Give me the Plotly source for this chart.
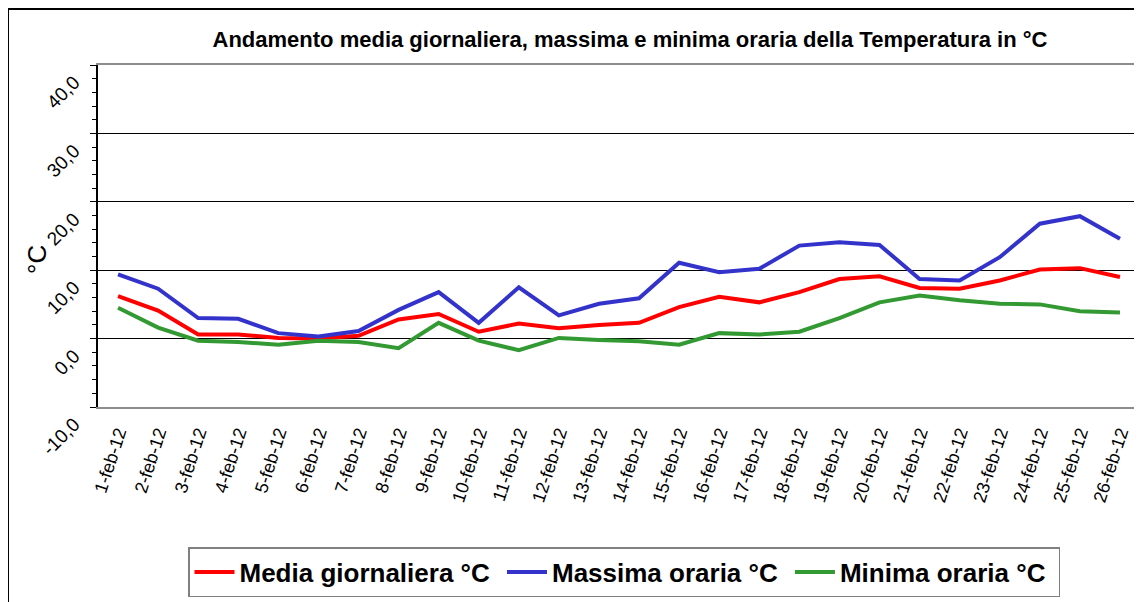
import plotly.graph_objects as go

days = [f"{d}-feb-12" for d in range(1, 27)]

media = [6.2, 4.1, 0.6, 0.6, 0.1, 0.0, 0.4, 2.8, 3.6, 1.0, 2.2, 1.5, 2.0, 2.3, 4.6, 6.1,
         5.3, 6.8, 8.7, 9.1, 7.4, 7.3, 8.5, 10.1, 10.3, 9.0]
massima = [9.4, 7.3, 3.0, 2.9, 0.8, 0.3, 1.1, 4.2, 6.8, 2.3, 7.5, 3.4, 5.1, 5.9, 11.1, 9.7,
           10.2, 13.6, 14.1, 13.7, 8.7, 8.5, 11.9, 16.8, 17.9, 14.6]
minima = [4.5, 1.6, -0.3, -0.5, -0.9, -0.3, -0.5, -1.4, 2.3, -0.3, -1.7, 0.1, -0.2, -0.4, -0.9, 0.8,
          0.6, 1.0, 3.0, 5.3, 6.3, 5.6, 5.1, 5.0, 4.0, 3.8]

y_ticks = [-10, 0, 10, 20, 30, 40]
y_tick_text = ["-10,0", "0,0", "10,0", "20,0", "30,0", "40,0"]

series = [
    ("Media giornaliera °C", media, "#FF0000"),
    ("Massima oraria °C", massima, "#3333CC"),
    ("Minima oraria °C", minima, "#339933"),
]

fig = go.Figure()
for name, vals, col in series:
    fig.add_trace(go.Scatter(x=days, y=vals, mode="lines", name=f"<b>{name}</b>&nbsp;",
                             line=dict(color=col, width=4)))

W, H = 1142, 602
OFF = 8  # page body margin offset
L, R, T, B = 98 - OFF, 1140 - OFF, 65 - OFF, 407 - OFF
pw, ph = R - L, B - T

def px(x):
    return (x - OFF - L) / pw

def py(y):
    return (B - (y - OFF)) / ph

fig.update_layout(
    width=W, height=H,
    margin=dict(l=L, r=W - R, t=T, b=H - B, autoexpand=False),
    paper_bgcolor="white", plot_bgcolor="white",
    font=dict(family="Liberation Sans, Arial, sans-serif", color="black"),
    title=dict(text="<b>Andamento media giornaliera, massima e minima oraria della Temperatura in °C</b>",
               x=px(630), xanchor="center", xref="paper", y=1 - (39 - OFF) / H, yanchor="middle",
               font=dict(size=22, color="black")),
    showlegend=True,
    legend=dict(orientation="h", x=px(188), xanchor="left", y=py(547), yanchor="top",
                bordercolor="#808080", borderwidth=1.5, bgcolor="white",
                font=dict(size=26, color="black"), itemwidth=40, tracegroupgap=0),
    xaxis=dict(type="category", showgrid=False, showline=True, linecolor="#8c8c8c",
               linewidth=2, mirror=True, ticks="", tickangle=-72, automargin=False,
               tickfont=dict(size=18, color="black"), range=[-0.5, 25.5],
               ticklabelstandoff=6),
    yaxis=dict(range=[-10, 40], tickvals=y_ticks, ticktext=y_tick_text, automargin=False,
               showgrid=True, gridcolor="black", gridwidth=1,
               showline=True, linecolor="black", linewidth=2,
               ticks="outside", ticklen=6, tickcolor="black", tickwidth=1,
               minor=dict(dtick=2, ticks="outside", ticklen=4, tickcolor="black", showgrid=False),
               tickangle=-45, tickfont=dict(size=19, color="black"),
               zeroline=False, ticklabelshift=15, ticklabelstandoff=12),
    annotations=[dict(text="°C", x=px(37), y=py(260), xref="paper", yref="paper",
                      xanchor="center", yanchor="middle",
                      showarrow=False, textangle=-90, font=dict(size=26, color="black"))],
    shapes=[
        dict(type="line", xref="paper", yref="paper", x0=px(8), x1=px(8), y0=py(9), y1=py(610),
             line=dict(color="black", width=2)),
        dict(type="line", xref="paper", yref="paper", x0=px(8), x1=px(1150), y0=py(9), y1=py(9),
             line=dict(color="black", width=2)),
        dict(type="line", xref="paper", yref="paper", x0=1, x1=1, y0=0, y1=1,
             line=dict(color="#8c8c8c", width=2)),
    ],
)

fig.write_html("out.html")
